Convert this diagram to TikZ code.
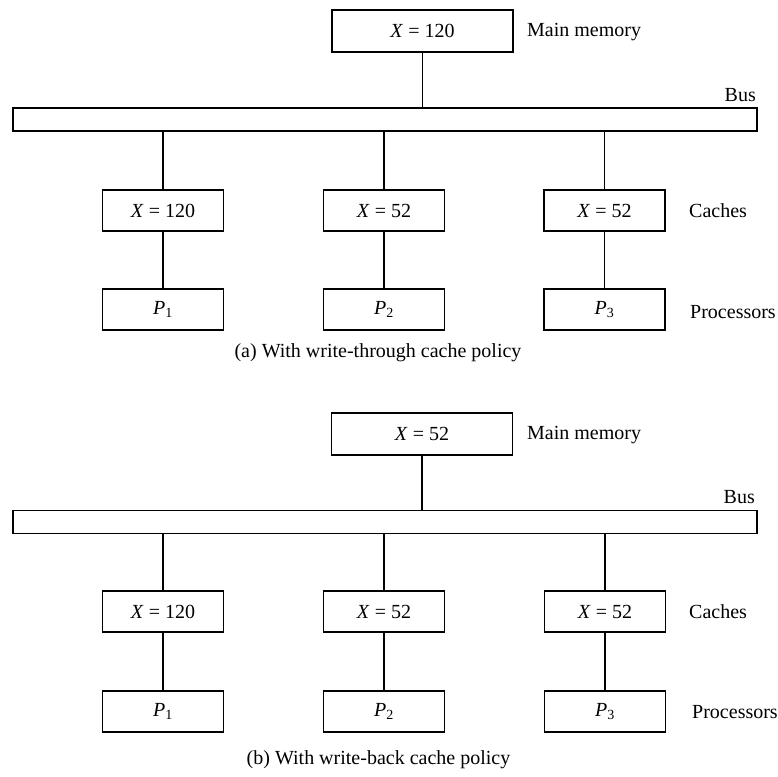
\documentclass[tikz,border=0pt]{standalone}
\usepackage{fontspec}
\setmainfont{Liberation Serif}
\begin{document}
\begin{tikzpicture}[x=1pt,y=-1pt,
  box/.style={draw,line width=1.8pt,minimum width=121pt,minimum height=41pt,inner sep=0pt},
  membox/.style={box,minimum width=181pt,minimum height=42pt},
  busbar/.style={draw,line width=1.8pt,minimum width=744pt,minimum height=23pt,inner sep=0pt},
  wire/.style={line width=1.8pt},
  lbl/.style={inner sep=0pt,anchor=west},
  txt/.style={font=\fontsize{20}{22}\selectfont}]
\useasboundingbox (0,0) rectangle (778,776);
\tikzset{every node/.append style={txt}}

% (a) write-through
\node[membox] (memA) at (422.5,31) {\textit{X} = 120};
\node[lbl] (memAl) at (527,32) {Main memory};
\node[busbar] (busA) at (385,119.5) {};
\node[inner sep=0pt,anchor=east] (busAl) at (756,95) {Bus};
\node[box] (cA1) at (163,210.5) {\textit{X} = 120};
\node[box] (cA2) at (384,210.5) {\textit{X} = 52};
\node[box] (cA3) at (604.5,210.5) {\textit{X} = 52};
\node[box] (pA1) at (163,309.5) {\textit{P}\textsubscript{1}};
\node[box] (pA2) at (384,309.5) {\textit{P}\textsubscript{2}};
\node[box] (pA3) at (604.5,309.5) {\textit{P}\textsubscript{3}};
\node[lbl] (cAl) at (689,211) {Caches};
\node[lbl] (pAl) at (690,312) {Processors};
\node (capA) at (378,353) {(a) With write-through cache policy};
\draw[wire] (memA.south) -- (memA.south |- busA.north);
\foreach \i in {1,2,3}{
  \draw[wire] (cA\i.north) -- (cA\i.north |- busA.south);
  \draw[wire] (cA\i) -- (pA\i);
}

% (b) write-back
\node[membox] (memB) at (422,434) {\textit{X} = 52};
\node[lbl] (memBl) at (527,435) {Main memory};
\node[busbar] (busB) at (385,522) {};
\node[inner sep=0pt,anchor=east] (busBl) at (755,497) {Bus};
\node[box] (cB1) at (163,611.5) {\textit{X} = 120};
\node[box] (cB2) at (384,611.5) {\textit{X} = 52};
\node[box] (cB3) at (605,611.5) {\textit{X} = 52};
\node[box] (pB1) at (163,711.5) {\textit{P}\textsubscript{1}};
\node[box] (pB2) at (384,711.5) {\textit{P}\textsubscript{2}};
\node[box] (pB3) at (605,711.5) {\textit{P}\textsubscript{3}};
\node[lbl] (cBl) at (689,612) {Caches};
\node[lbl] (pBl) at (692,712) {Processors};
\node (capB) at (378.5,760) {(b) With write-back cache policy};
\draw[wire] (memB.south) -- (memB.south |- busB.north);
\foreach \i in {1,2,3}{
  \draw[wire] (cB\i.north) -- (cB\i.north |- busB.south);
  \draw[wire] (cB\i) -- (pB\i);
}
\end{tikzpicture}
\end{document}
